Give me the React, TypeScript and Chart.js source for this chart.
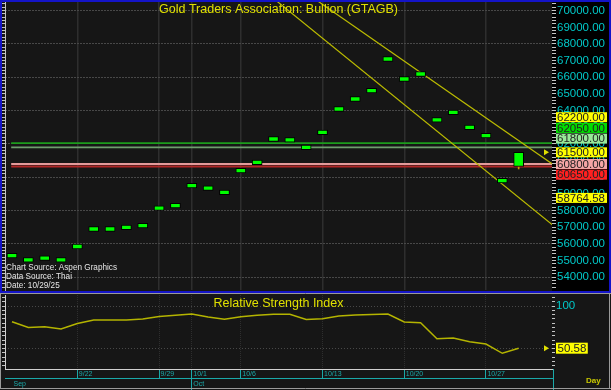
import React, { useEffect, useRef } from 'react';
import { Chart, registerables } from 'chart.js';

Chart.register(...registerables);

// ---------------- data ----------------
const dates = ['9/16','9/17','9/18','9/19','9/22','9/23','9/24','9/25','9/26','9/29','9/30','10/1','10/2','10/3','10/6','10/7','10/8','10/9','10/10','10/13','10/14','10/15','10/16','10/17','10/20','10/21','10/22','10/23','10/24','10/27','10/28','10/29'];
const weekLabels = ['9/22','9/29','10/1','10/6','10/13','10/20','10/27'];
const monthLabels = ['Sep','Oct'];
const monthFirstDates = ['9/16','10/1'];
const closes = [55300, 55050, 55150, 55050, 55850, 56900, 56900, 57000, 57100, 58150, 58300, 59500, 59350, 59100, 60400, 60900, 62300, 62250, 61800, 62700, 64100, 64700, 65200, 67100, 65900, 66200, 63450, 63900, 63000, 62500, 59800, 61500];
const lastOpen = 60650;
const lastLow = 60500;
const levelValues = [62050, 61800, 60800, 60650];
const priceLabelValues = [62200, 62050, 61800, 61500, 60800, 60650, 58764.58];
const upperTrend = [[14, 73785], [34, 60155]];
const lowerTrend = [[14, 72326], [34, 56405]];
const rsiValues = [81.6, 74.8, 75.8, 73.1, 79.5, 83.6, 83.6, 83.6, 84.8, 87.7, 89.1, 90.6, 87.1, 84.4, 87.5, 89.1, 90.3, 90.3, 84.2, 85.1, 88.3, 89.5, 90.0, 90.6, 81.3, 80.4, 61.7, 62.5, 58.2, 55.5, 44.6, 50.58];
const rsiLabelTicks = [100];
const rsiGridValues = [50, 100];

const TITLE = 'Gold Traders Association: Bullion (GTAGB)';
const RSI_TITLE = 'Relative Strength Index';
const SOURCE_LINES = ['Chart Source: Aspen Graphics', 'Data Source: Thai', 'Date: 10/29/25'];

// ---------------- style ----------------
const FONT = '"Liberation Sans", Arial, sans-serif';
const BG = '#161616';
const GRID_V = '#2e2e2e';
const GRID_H = '#484848';
const CYAN = '#00c8c8';
const TEAL = '#1aa8a8';
const TITLE_YELLOW = '#e0e000';
const TREND = '#bcbc00';
const RSI_LINE = '#b4b400';
const BAR_GREEN = '#00ff00';
const TICK_WHITE = '#c4c4c4';
const BLUE = '#1414c8';
const LEVEL_COLORS = ['#1c9c1c', '#6e9e6e', '#e49a9a', '#b02626'];
const LABEL_COLORS = ['#ffff00', '#00dc00', '#98e898', '#ffff00', '#f4a4a4', '#ff2020', '#ffff00'];

const X_MIN = -0.428;
const X_MAX = 33.04;
const Y_MIN = 53238;
const Y_MAX = 70520;
const R_MIN = 26.2;
const R_MAX = 112.9;
const DASH = 140;

const lastIdx = closes.length - 1;
const weekIdx = weekLabels.map((l) => dates.indexOf(l));
const monthIdx = monthFirstDates.map((d) => dates.indexOf(d));

function range(a: number, b: number, s: number) {
  const out: { value: number }[] = [];
  for (let v = a; v <= b + 1e-9; v += s) out.push({ value: v });
  return out;
}

function arrowRight(ctx: CanvasRenderingContext2D, x: number, y: number) {
  ctx.beginPath();
  ctx.moveTo(x - 3, y - 3);
  ctx.lineTo(x + 2, y);
  ctx.lineTo(x - 3, y + 3);
  ctx.closePath();
  ctx.fill();
}

const mainDecor = {
  id: 'mainDecor',
  beforeDraw(chart: any) {
    const { ctx, chartArea: a, width, height } = chart;
    ctx.save();
    ctx.fillStyle = BG;
    ctx.fillRect(0, 0, width, height);
    ctx.fillStyle = '#000';
    ctx.fillRect(a.right, 0, width - a.right, height);
    ctx.restore();
  },
  afterDraw(chart: any) {
    const { ctx, chartArea: a, width, height } = chart;
    const ys = chart.scales.y;
    ctx.save();
    ctx.font = `12.5px ${FONT}`;
    ctx.fillStyle = TITLE_YELLOW;
    ctx.textAlign = 'center';
    ctx.textBaseline = 'middle';
    ctx.fillText(TITLE, (a.left + a.right) / 2, 10);
    ctx.font = `8.2px ${FONT}`;
    ctx.fillStyle = '#e6e6e6';
    ctx.textAlign = 'left';
    SOURCE_LINES.forEach((t, i) => ctx.fillText(t, a.left + 1, 268 + i * 9));
    ctx.fillStyle = TITLE_YELLOW;
    arrowRight(ctx, a.right - 5, ys.getPixelForValue(closes[lastIdx]));
    const items = priceLabelValues.map((v, i) => ({ v, color: LABEL_COLORS[i], y: ys.getPixelForValue(v) }));
    const anchor = priceLabelValues.indexOf(closes[lastIdx]);
    const H = 10.7;
    for (let i = anchor - 1; i >= 0; i--) {
      items[i].y = Math.min(items[i].y, items[i + 1].y - H - (i + 1 === anchor ? 3 : 0));
    }
    for (let i = anchor + 1; i < items.length; i++) {
      items[i].y = Math.max(items[i].y, items[i - 1].y + H);
    }
    ctx.font = `11.5px ${FONT}`;
    ctx.textBaseline = 'middle';
    items.forEach((it) => {
      const txt = it.v.toFixed(2);
      const x0 = a.right + 4;
      ctx.fillStyle = it.color;
      ctx.fillRect(x0, it.y - 5, 51, 10);
      ctx.fillStyle = '#222';
      ctx.fillText(txt, x0 + 1, it.y + 0.5);
    });
    ctx.strokeStyle = BLUE;
    ctx.lineWidth = 2;
    ctx.strokeRect(1, 1, width - 2, height - 2);
    ctx.restore();
  },
};

const rsiDecor = {
  id: 'rsiDecor',
  beforeDraw(chart: any) {
    const { ctx, width, height } = chart;
    ctx.save();
    ctx.fillStyle = BG;
    ctx.fillRect(0, 0, width, height);
    ctx.restore();
  },
  afterDraw(chart: any) {
    const { ctx, chartArea: a, width, height } = chart;
    const ys = chart.scales.y;
    ctx.save();
    ctx.font = `12.5px ${FONT}`;
    ctx.fillStyle = TITLE_YELLOW;
    ctx.textAlign = 'center';
    ctx.textBaseline = 'middle';
    ctx.fillText(RSI_TITLE, (a.left + a.right) / 2, 10.5);
    ctx.strokeStyle = TEAL;
    ctx.lineWidth = 1;
    ctx.beginPath();
    ctx.moveTo(a.right + 1.5, a.bottom);
    ctx.lineTo(a.right + 1.5, height);
    ctx.stroke();
    ctx.font = `bold 8px ${FONT}`;
    ctx.fillStyle = '#c8c800';
    ctx.textAlign = 'left';
    ctx.fillText('Day', a.right + 34, a.bottom + 11.5);
    const y = ys.getPixelForValue(rsiValues[lastIdx]);
    ctx.fillStyle = TITLE_YELLOW;
    arrowRight(ctx, a.right - 5, y);
    ctx.font = `11.5px ${FONT}`;
    const txt = rsiValues[lastIdx].toFixed(2);
    const w = ctx.measureText(txt).width + 3;
    ctx.fillStyle = '#ffff00';
    ctx.fillRect(a.right + 4, y - 5.5, w, 11);
    ctx.fillStyle = '#222';
    ctx.textBaseline = 'middle';
    ctx.fillText(txt, a.right + 5.5, y + 0.5);
    ctx.strokeStyle = '#9a9a9a';
    ctx.lineWidth = 1;
    ctx.beginPath();
    ctx.moveTo(0, 0.5); ctx.lineTo(width, 0.5);
    ctx.moveTo(0.5, 0); ctx.lineTo(0.5, height - 1);
    ctx.moveTo(0, height - 1.5); ctx.lineTo(width, height - 1.5);
    ctx.moveTo(width - 1.5, 0); ctx.lineTo(width - 1.5, height - 1);
    ctx.stroke();
    ctx.restore();
  },
};

function mainConfig(): any {
  return {
    type: 'line',
    data: {
      datasets: [
        {
          type: 'bar',
          data: closes.map((c, i) => ({ x: i, y: i === lastIdx ? [lastOpen, c] : [c - DASH, c + DASH] })),
          backgroundColor: BAR_GREEN,
          borderColor: '#000',
          borderWidth: 1,
          borderSkipped: false,
          barThickness: 10,
          grouped: false,
          order: 0,
        },
        {
          type: 'bar',
          data: [{ x: lastIdx, y: [lastLow, lastOpen] }],
          backgroundColor: '#c8a000',
          barThickness: 1,
          grouped: false,
          order: 1,
        },
        ...[upperTrend, lowerTrend].map((t) => ({
          type: 'line',
          data: t.map(([x, y]) => ({ x, y })),
          borderColor: TREND,
          borderWidth: 1.2,
          pointRadius: 0,
          order: 2,
        })),
        ...levelValues.map((v, k) => ({
          type: 'line',
          data: [{ x: -0.05, y: v }, { x: X_MAX + 1, y: v }],
          borderColor: LEVEL_COLORS[k],
          borderWidth: 1.8,
          pointRadius: 0,
          order: 3,
        })),
      ],
    },
    options: {
      animation: false,
      responsive: false,
      devicePixelRatio: 1,
      layout: { padding: { top: 2, bottom: 3, left: 0, right: 0 } },
      plugins: { legend: { display: false }, tooltip: { enabled: false }, title: { display: false } },
      scales: {
        x: {
          type: 'linear', min: X_MIN, max: X_MAX, offset: false,
          afterBuildTicks: (s: any) => { s.ticks = weekIdx.map((v) => ({ value: v })); },
          afterFit: (s: any) => { s.height = 0; s.paddingLeft = 0; s.paddingRight = 0; },
          ticks: { display: false },
          grid: { color: GRID_V, lineWidth: 1.5, drawTicks: false, offset: false },
          border: { display: false },
        },
        y: {
          type: 'linear', position: 'right', min: Y_MIN, max: Y_MAX,
          afterBuildTicks: (s: any) => { s.ticks = range(53400, 70400, 200); },
          afterFit: (s: any) => { s.width = 59; s.paddingTop = 0; s.paddingBottom = 0; },
          ticks: {
            color: CYAN, font: { size: 11.5 }, padding: 1, autoSkip: false,
            callback: (v: number) => (Math.round(v) % 1000 === 0 ? Number(v).toFixed(2) : ''),
          },
          grid: {
            color: (c: any) => (c.tick && Math.round(c.tick.value) % 2000 === 0 ? GRID_H : 'transparent'),
            tickColor: TICK_WHITE, tickLength: 4, lineWidth: 1,
          },
          border: { display: false, dash: [2, 1] },
        },
        yl: {
          type: 'linear', position: 'left', min: Y_MIN, max: Y_MAX,
          afterBuildTicks: (s: any) => { s.ticks = range(53400, 70400, 200); },
          afterFit: (s: any) => { s.width = 5; s.paddingTop = 0; s.paddingBottom = 0; },
          ticks: { display: false },
          grid: { drawOnChartArea: false, tickColor: TICK_WHITE, tickLength: 3 },
          border: { display: true, color: TICK_WHITE },
        },
      },
    },
    plugins: [mainDecor],
  };
}

function rsiConfig(): any {
  return {
    type: 'line',
    data: {
      datasets: [
        {
          type: 'line',
          data: rsiValues.map((r, i) => ({ x: i, y: r })),
          borderColor: RSI_LINE,
          borderWidth: 1.5,
          pointRadius: 0,
        },
      ],
    },
    options: {
      animation: false,
      responsive: false,
      devicePixelRatio: 1,
      layout: { padding: { top: 2, bottom: 0, left: 0, right: 0 } },
      plugins: { legend: { display: false }, tooltip: { enabled: false }, title: { display: false } },
      scales: {
        x: {
          type: 'linear', position: 'bottom', min: X_MIN, max: X_MAX, offset: false,
          afterBuildTicks: (s: any) => { s.ticks = weekIdx.map((v) => ({ value: v })); },
          afterFit: (s: any) => { s.height = 9; s.paddingLeft = 0; s.paddingRight = 0; },
          ticks: {
            color: TEAL, font: { size: 7 }, align: 'start', padding: -7.7, labelOffset: 1.5,
            autoSkip: false, maxRotation: 0, minRotation: 0,
            callback: (v: number) => dates[Math.round(v)],
          },
          grid: { color: GRID_V, lineWidth: 1, tickColor: TEAL, tickLength: 9, offset: false },
          border: { display: true, color: '#d0d0d0', dash: [1, 1] },
        },
        x2: {
          type: 'linear', position: 'bottom', min: X_MIN, max: X_MAX, offset: false,
          afterBuildTicks: (s: any) => { s.ticks = monthIdx.map((v) => ({ value: v })); },
          afterFit: (s: any) => { s.height = 12; s.paddingLeft = 0; s.paddingRight = 0; },
          ticks: {
            color: TEAL, font: { size: 7 }, align: 'start', padding: -10.2, labelOffset: 1.5,
            autoSkip: false, maxRotation: 0, minRotation: 0,
            callback: (v: number) => monthLabels[monthIdx.indexOf(Math.round(v))],
          },
          grid: {
            drawOnChartArea: false, tickLength: 12,
            tickColor: (c: any) => (c.tick && Math.round(c.tick.value) === monthIdx[0] ? 'transparent' : TEAL),
          },
          border: { display: true, color: TEAL },
        },
        y: {
          type: 'linear', position: 'right', min: R_MIN, max: R_MAX,
          afterBuildTicks: (s: any) => { s.ticks = range(30, 110, 5); },
          afterFit: (s: any) => { s.width = 59; s.paddingTop = 0; s.paddingBottom = 0; },
          ticks: {
            color: CYAN, font: { size: 11.5 }, padding: 1, autoSkip: false,
            callback: (v: number) => (rsiLabelTicks.includes(Math.round(v)) ? String(Math.round(v)) : ''),
          },
          grid: {
            color: (c: any) => (c.tick && rsiGridValues.includes(Math.round(c.tick.value)) ? GRID_H : 'transparent'),
            tickColor: TICK_WHITE, tickLength: 3, lineWidth: 1,
          },
          border: { display: false, dash: [1, 2] },
        },
        yl: {
          type: 'linear', position: 'left', min: R_MIN, max: R_MAX,
          afterBuildTicks: (s: any) => { s.ticks = range(30, 110, 5); },
          afterFit: (s: any) => { s.width = 5; s.paddingTop = 0; s.paddingBottom = 0; },
          ticks: { display: false },
          grid: { drawOnChartArea: false, tickColor: TICK_WHITE, tickLength: 3 },
          border: { display: true, color: '#d0d0d0' },
        },
      },
    },
    plugins: [rsiDecor],
  };
}

export default function App() {
  const mainRef = useRef<HTMLCanvasElement>(null);
  const rsiRef = useRef<HTMLCanvasElement>(null);
  useEffect(() => {
    Chart.defaults.font.family = FONT;
    const main = new Chart(mainRef.current as HTMLCanvasElement, mainConfig());
    const rsi = new Chart(rsiRef.current as HTMLCanvasElement, rsiConfig());
    return () => {
      main.destroy();
      rsi.destroy();
    };
  }, []);
  return (
    <div style={{ position: 'fixed', left: 0, top: 0, width: 611, height: 390, background: '#000' }}>
      <canvas ref={mainRef} width={611} height={293} style={{ position: 'absolute', left: 0, top: 0, width: 611, height: 293 }} />
      <canvas ref={rsiRef} width={611} height={97} style={{ position: 'absolute', left: 0, top: 293, width: 611, height: 97 }} />
    </div>
  );
}
